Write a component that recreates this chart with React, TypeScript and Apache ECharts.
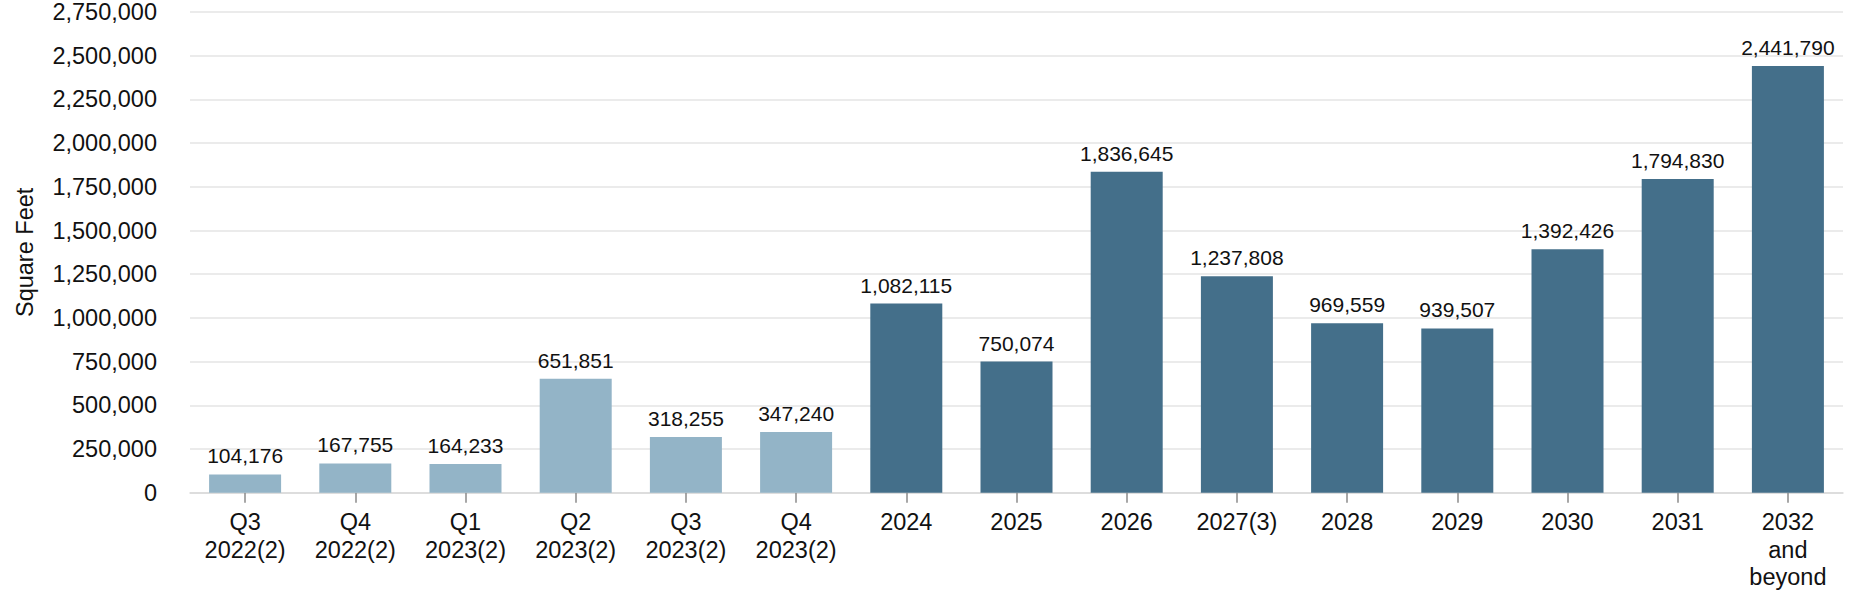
import React, { useEffect, useRef } from "react";
import * as echarts from "echarts";

const categories = [
  "Q3\n2022(2)", "Q4\n2022(2)", "Q1\n2023(2)", "Q2\n2023(2)", "Q3\n2023(2)", "Q4\n2023(2)",
  "2024", "2025", "2026", "2027(3)", "2028", "2029", "2030", "2031", "2032\nand\nbeyond",
];
const values = [
  104176, 167755, 164233, 651851, 318255, 347240,
  1082115, 750074, 1836645, 1237808, 969559, 939507, 1392426, 1794830, 2441790,
];
// number of leading quarterly bars drawn in the lighter colour
const quarterlyCount = 6;
const yAxisName = "Square Feet";

const LIGHT = "#93b4c7";
const DARK = "#446f8a";
const FONT = "'Liberation Sans', Arial, sans-serif";

export default function App() {
  const ref = useRef<HTMLDivElement>(null);
  useEffect(() => {
    document.body.style.margin = "0";
    const chart = echarts.init(ref.current!, null, { renderer: "svg" });
    chart.setOption({
      animation: false,
      textStyle: { fontFamily: FONT },
      grid: { left: 190, right: 7, top: 9.5, bottom: 107.3, containLabel: false },
      xAxis: {
        type: "category",
        data: categories,
        axisLine: { show: true, lineStyle: { color: "#d9d9d9", width: 1.5 } },
        axisTick: { show: true, alignWithLabel: true, length: 10, lineStyle: { color: "#8a8a8a", width: 1.5 } },
        axisLabel: {
          color: "#111",
          fontSize: 23.5,
          lineHeight: 27.5,
          margin: 16,
          interval: 0,
          fontFamily: FONT,
        },
      },
      yAxis: {
        type: "value",
        min: 0,
        max: 2750000,
        interval: 250000,
        name: yAxisName,
        nameLocation: "middle",
        nameRotate: 90,
        nameGap: 153,
        nameTextStyle: { color: "#111", fontSize: 23.5, fontFamily: FONT },
        axisLine: { show: false },
        axisTick: { show: false },
        axisLabel: {
          color: "#111",
          fontSize: 23.5,
          margin: 33,
          fontFamily: FONT,
          formatter: (v: number) => v.toLocaleString("en-US"),
        },
        splitLine: { lineStyle: { color: "#e4e4e4", width: 1.5 } },
      },
      series: [
        {
          type: "bar",
          barWidth: 72,
          data: values.map((v, i) => ({
            value: v,
            itemStyle: { color: i < quarterlyCount ? LIGHT : DARK },
          })),
          label: {
            show: true,
            position: "top",
            distance: 8,
            color: "#111",
            fontSize: 21,
            fontFamily: FONT,
            formatter: (p: any) => Number(p.value).toLocaleString("en-US"),
          },
        },
      ],
    });
    return () => chart.dispose();
  }, []);
  return <div ref={ref} style={{ width: 1850, height: 600 }} />;
}
